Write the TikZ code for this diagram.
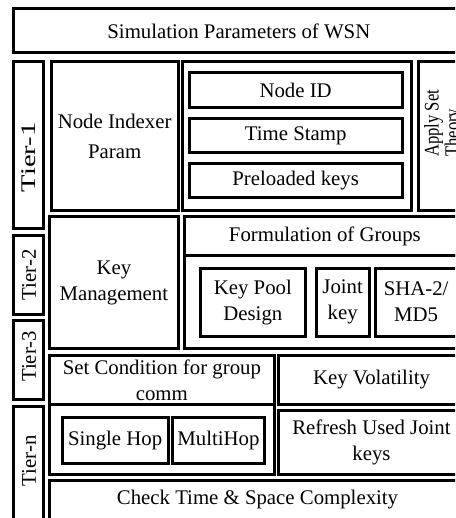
\documentclass[tikz,border=0pt]{standalone}
\usepackage{fontspec}
\setmainfont{Liberation Serif}
\usepackage{graphicx}
\tikzset{
  box/.style={draw, line width=3pt, rectangle, inner sep=0pt, align=center,
    font=\fontsize{20.8}{26}\selectfont},
  lbl/.style={inner sep=0pt, align=center, font=\fontsize{20.8}{26}\selectfont},
}
\newcommand\mybox[6]{%
  \pgfmathsetmacro\myW{#4-#2}\pgfmathsetmacro\myH{#5-#3}%
  \pgfmathsetmacro\myX{(#2+#4)/2}\pgfmathsetmacro\myY{(#3+#5)/2}%
  \node[box, minimum width=\myW pt, minimum height=\myH pt] (#1) at (\myX,\myY) {#6};}
\begin{document}
\begin{tikzpicture}[x=1pt,y=-1pt]
\useasboundingbox (0,0) rectangle (455,518);
\clip (0,0) rectangle (455,518);
% top
\mybox{sim}{13.7}{8.7}{464}{53}{Simulation Parameters of WSN}
% tiers
\mybox{t1}{13.3}{61.3}{43.7}{228.5}{}
\mybox{t2}{13.3}{235.3}{43.7}{314}{}
\mybox{t3}{13.3}{320.3}{43.7}{399.5}{}
\mybox{tn}{13.3}{406.3}{43.7}{540}{}
\node[lbl, rotate=90] (t1l) at (29,157.5) {\scalebox{1.37}[1]{Tier-1}};
\node[lbl, rotate=90] (t2l) at (29,275) {Tier-2};
\node[lbl, rotate=90] (t3l) at (29,356.5) {Tier-3};
\node[lbl, rotate=90] (tnl) at (29,461) {Tier-n};
% tier 1 row
\mybox{idx}{51.3}{62}{178}{210.5}{Node Indexer\\[4pt]Param}
\mybox{c1}{182.3}{62}{411.3}{210.5}{}
\mybox{nid}{189}{73}{402.3}{107.3}{Node ID}
\mybox{ts}{189}{118.7}{402.3}{153}{Time Stamp}
\mybox{pk}{189}{164}{402.3}{198}{Preloaded keys}
\mybox{ap}{418}{62}{470}{210.5}{}
\node[lbl, rotate=90, anchor=base west] (ap1) at (438.5,157) {\scalebox{0.8}[1]{Apply Set}};
\node[lbl, rotate=90, anchor=base west] (ap2) at (459,157) {\scalebox{0.8}[1]{Theory}};
% tier 2 row
\mybox{km}{49.7}{217}{178}{348}{Key\\Management}
\mybox{fg}{184.7}{217}{465}{255.3}{Formulation of Groups}
\mybox{fgc}{184.7}{255.3}{465}{348}{}
\mybox{kp}{200}{268}{305.7}{336.3}{Key Pool\\Design}
\mybox{jk}{316.3}{268}{369}{336.3}{Joint\\key}
\mybox{sha}{375.3}{268}{457}{336.3}{SHA-2/\\MD5}
% tier 3 row
\mybox{sc}{49.7}{355.3}{274}{404.7}{Set Condition for group\\comm}
\mybox{hc}{49.7}{404.7}{274}{474.7}{}
\mybox{sh}{62.3}{417.3}{168}{463}{Single Hop}
\mybox{mh}{172.3}{417.3}{264.7}{463}{MultiHop}
\mybox{kv}{278}{355.3}{465}{404.3}{Key Volatility}
\mybox{rf}{278}{410}{465}{474.7}{Refresh Used Joint\\keys}
% bottom
\mybox{ct}{49.7}{480.7}{465}{540}{}
\node[lbl] (ctl) at (257.5,500) {Check Time \& Space Complexity};
\end{tikzpicture}
\end{document}
